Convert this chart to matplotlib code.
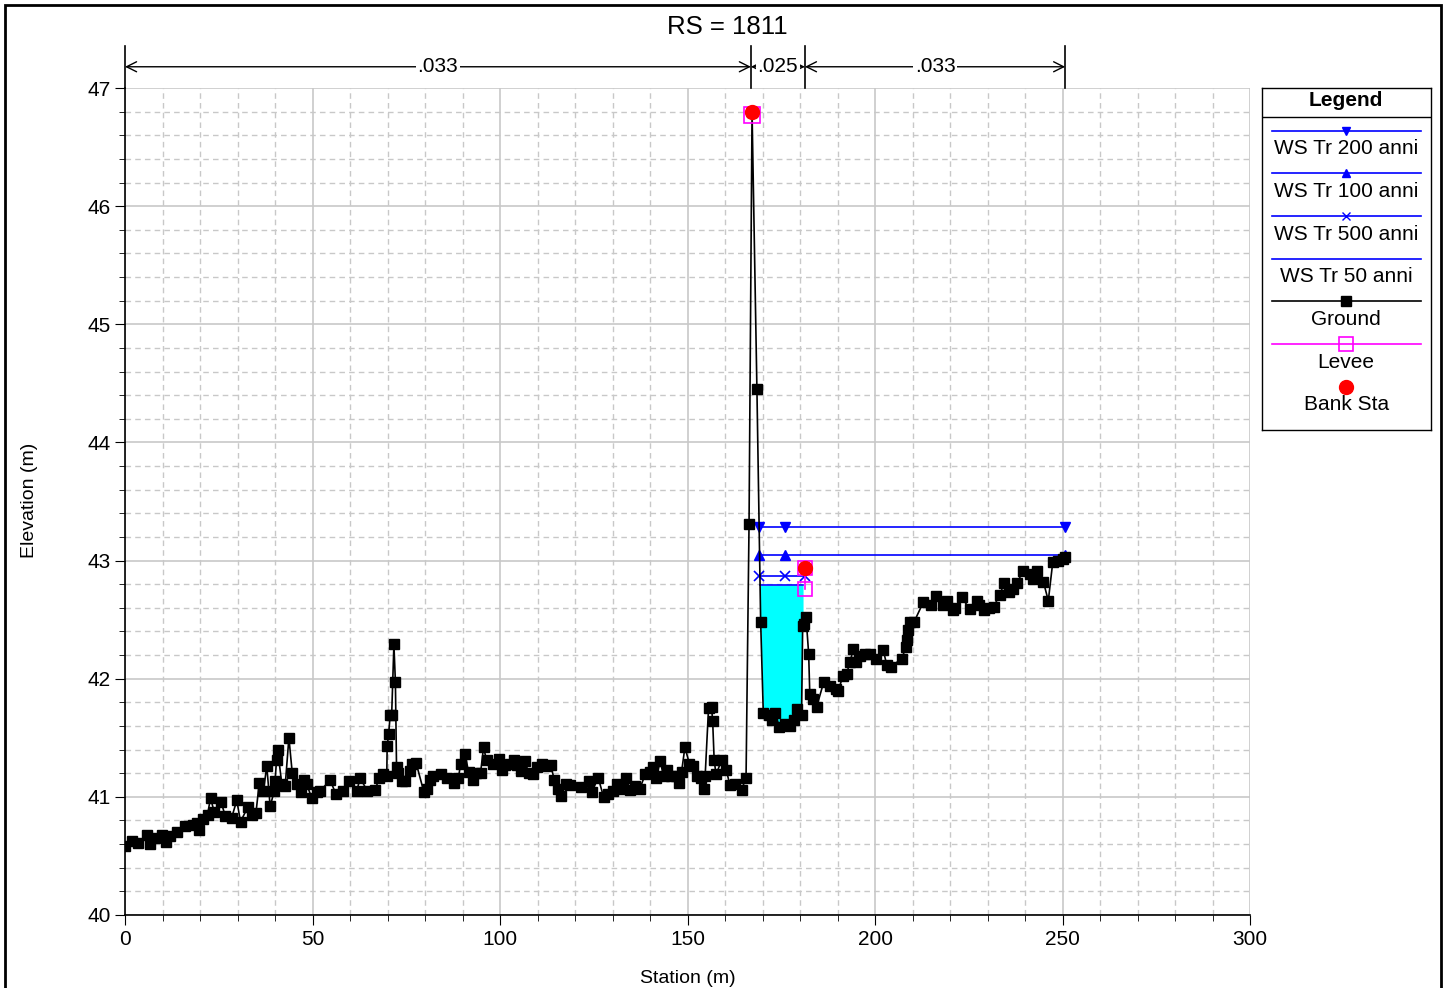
import numpy as np
import matplotlib
matplotlib.use("Agg")
import matplotlib.pyplot as plt
from matplotlib.patches import Rectangle
from matplotlib.ticker import MultipleLocator

plt.rcParams['font.family'] = ['Liberation Sans', 'DejaVu Sans']

# ground profile (station m, elevation m)
station = [0.0, 1.8, 3.5, 5.8, 6.7, 8.0, 9.8, 10.8, 12.0, 13.8, 16.0, 18.0, 19.1, 19.8, 20.9,
           22.0, 22.8, 23.8, 25.6, 26.7, 28.4, 29.8, 30.8, 32.7, 33.8, 34.9, 35.8, 36.9, 37.8,
           38.7, 39.8, 40.0, 40.4, 40.7, 41.8, 42.7, 43.7, 44.6, 45.8, 46.9, 47.8, 48.4, 49.8,
           51.1, 52.0, 54.7, 56.3, 58.2, 59.6, 61.8, 62.7, 64.6, 66.7, 67.8, 68.7, 69.8, 69.9,
           70.3, 70.7, 71.1, 71.7, 72.1, 72.4, 72.9, 73.8, 74.7, 76.0, 76.4, 77.6, 79.7, 80.6,
           81.3, 82.2, 84.2, 85.8, 87.7, 88.9, 89.5, 90.7, 91.6, 92.7, 93.6, 94.8, 95.6, 96.4,
           98.2, 99.6, 100.4, 101.3, 102.7, 103.7, 104.4, 105.5, 106.7, 107.6, 108.7, 109.8,
           111.1, 112.4, 113.5, 114.5, 115.4, 116.3, 117.6, 118.7, 121.5, 123.6, 124.4, 126.2,
           127.6, 128.9, 130.2, 131.1, 132.4, 133.6, 134.7, 136.0, 137.3, 138.7, 140.0, 140.9,
           141.6, 142.7, 143.6, 144.6, 145.5, 146.9, 147.6, 148.4, 149.3, 150.5, 151.4, 152.4,
           153.5, 154.4, 154.7, 155.6, 156.4, 156.7, 157.1, 157.6, 159.1, 160.3, 161.3, 162.7,
           164.4, 165.6, 166.4, 167.2, 168.5, 169.5, 170.2, 171.6, 172.4, 173.3, 174.5, 176.0,
           177.3, 178.4, 179.3, 180.4, 180.7, 181.0, 181.6, 182.3, 182.6, 183.5, 184.4, 186.3,
           188.0, 189.5, 190.2, 191.4, 192.4, 193.3, 194.2, 194.9, 196.0, 197.3, 198.7, 200.3,
           202.2, 203.1, 204.2, 207.1, 208.3, 208.6, 208.9, 209.3, 210.4, 212.9, 214.8, 216.3,
           218.1, 219.3, 220.7, 221.3, 223.1, 225.2, 227.1, 227.6, 229.1, 230.5, 231.6, 233.3,
           234.4, 235.6, 236.9, 237.9, 239.4, 241.2, 242.2, 243.1, 244.9, 246.2, 247.4, 248.9,
           250.2, 250.7]
elevation = [40.58, 40.63, 40.61, 40.68, 40.60, 40.65, 40.68, 40.62, 40.67, 40.70, 40.75, 40.76,
             40.78, 40.72, 40.81, 40.85, 40.99, 40.87, 40.96, 40.84, 40.82, 40.97, 40.79, 40.91,
             40.85, 40.86, 41.12, 41.05, 41.26, 40.92, 41.05, 41.13, 41.31, 41.40, 41.11, 41.09,
             41.50, 41.20, 41.11, 41.04, 41.14, 41.11, 40.99, 41.04, 41.05, 41.14, 41.02, 41.05,
             41.13, 41.05, 41.16, 41.05, 41.06, 41.16, 41.19, 41.18, 41.43, 41.53, 41.69, 41.69,
             42.29, 41.97, 41.25, 41.20, 41.13, 41.13, 41.22, 41.28, 41.29, 41.04, 41.07, 41.14,
             41.18, 41.19, 41.16, 41.12, 41.16, 41.28, 41.36, 41.21, 41.14, 41.20, 41.20, 41.42,
             41.31, 41.28, 41.32, 41.23, 41.27, 41.28, 41.31, 41.27, 41.22, 41.30, 41.20, 41.19,
             41.25, 41.28, 41.26, 41.27, 41.14, 41.07, 41.01, 41.11, 41.10, 41.08, 41.13, 41.04,
             41.16, 41.00, 41.02, 41.05, 41.11, 41.07, 41.16, 41.06, 41.09, 41.07, 41.19, 41.21,
             41.25, 41.16, 41.30, 41.18, 41.23, 41.18, 41.18, 41.12, 41.21, 41.42, 41.28, 41.26,
             41.18, 41.16, 41.07, 41.18, 41.75, 41.76, 41.64, 41.31, 41.19, 41.31, 41.23, 41.10,
             41.11, 41.06, 41.16, 43.31, 46.80, 44.45, 42.48, 41.71, 41.69, 41.65, 41.71, 41.59,
             41.62, 41.60, 41.65, 41.74, 41.69, 42.45, 42.46, 42.52, 42.21, 41.87, 41.83, 41.76,
             41.97, 41.94, 41.91, 41.90, 42.02, 42.04, 42.14, 42.25, 42.14, 42.19, 42.21, 42.21,
             42.17, 42.24, 42.12, 42.10, 42.17, 42.27, 42.33, 42.41, 42.48, 42.48, 42.65, 42.62,
             42.70, 42.62, 42.66, 42.58, 42.60, 42.69, 42.59, 42.66, 42.62, 42.58, 42.60, 42.61,
             42.71, 42.81, 42.73, 42.76, 42.81, 42.91, 42.89, 42.84, 42.91, 42.82, 42.66, 42.99,
             43.00, 43.01, 43.03]

# water surfaces
ws200_x = [169.1, 176.0, 250.7]
ws200_y = [43.28, 43.28, 43.28]
ws100_x = [169.1, 176.0, 250.7]
ws100_y = [43.05, 43.05, 43.05]
ws500_x = [169.1, 176.0, 181.3]
ws500_y = [42.87, 42.87, 42.87]
ws50_level = 42.79
ws50_right = 180.8

levee_left = (167.3, 46.77)
levee_right_x = [181.3, 181.3]
levee_right_y = [42.94, 42.76]
bank_x = [167.2, 181.3]
bank_y = [46.80, 42.94]

n_breaks = [0.0, 166.9, 181.3, 250.7]
n_values = ['.033', '.025', '.033']

fig = plt.figure(figsize=(14.47, 9.88), dpi=100)
ax = fig.add_axes([0.0864, 0.0739, 0.7775, 0.837])
ax.set_xlim(0, 300)
ax.set_ylim(40, 47)
ax.xaxis.set_major_locator(MultipleLocator(50))
ax.xaxis.set_minor_locator(MultipleLocator(10))
ax.yaxis.set_major_locator(MultipleLocator(1))
ax.yaxis.set_minor_locator(MultipleLocator(0.2))
ax.grid(which='major', color='#c8c8c8', lw=1.2, ls='-')
ax.grid(which='minor', color='#c8c8c8', lw=1.0, ls=(0, (4, 3)))
ax.set_axisbelow(True)
for s in ['top', 'right']:
    ax.spines[s].set_visible(False)
for s in ['left', 'bottom']:
    ax.spines[s].set_linewidth(1.2)
ax.tick_params(which='major', length=7, labelsize=15, direction='out')
ax.tick_params(which='minor', length=4, direction='out')

# water fill (WS 50)
st = np.array(station)
el = np.array(elevation)
m = (st >= 168.5) & (st <= ws50_right)
fx = np.append(st[m], ws50_right)
fy = np.append(el[m], np.interp(ws50_right, st, el))
ax.fill_between(fx, fy, ws50_level, where=fy < ws50_level, interpolate=True,
                color='#00ffff', lw=0, zorder=2)
ax.plot([169.4, ws50_right], [ws50_level, ws50_level], color='#0000ff', lw=1.2, zorder=3)

ax.plot(ws200_x, ws200_y, color='#0000ff', lw=1.2, marker='v', ms=7, zorder=3)
ax.plot(ws100_x, ws100_y, color='#0000ff', lw=1.2, marker='^', ms=7, zorder=3)
ax.plot(ws500_x, ws500_y, color='#0000ff', lw=1.2, marker='x', ms=7, mew=1.2, zorder=3)

ax.plot(station, elevation, color='black', lw=1.2, marker='s', ms=7.5, zorder=4)

ax.plot(levee_right_x, levee_right_y, color='#ff00ff', lw=1.2, marker='s', ms=10,
        mfc='none', mew=1.2, zorder=5)
ax.plot([levee_left[0]], [levee_left[1]], color='#ff00ff', marker='s', ms=11,
        mfc='none', mew=1.2, zorder=5, ls='none')
ax.plot(bank_x, bank_y, color='red', marker='o', ms=10, ls='none', zorder=6)

# manning n annotation above the plot
y_arr = 47.18
for xb in n_breaks:
    ax.plot([xb, xb], [47.0, 47.36], color='black', lw=1.2, clip_on=False)
for i, nv in enumerate(n_values):
    x0, x1 = n_breaks[i], n_breaks[i + 1]
    ax.annotate('', xy=(x0, y_arr), xytext=(x1, y_arr), annotation_clip=False,
                arrowprops=dict(arrowstyle='<->', color='black', lw=1.0,
                                shrinkA=0, shrinkB=0, mutation_scale=18))
    ax.text((x0 + x1) / 2, y_arr, nv, ha='center', va='center', fontsize=15,
            bbox=dict(facecolor='white', edgecolor='none', pad=1), clip_on=False)

fig.text(0.5024, 1 - 27 / 988, 'RS = 1811', ha='center', va='center', fontsize=18.5)
fig.text(0.4751, 0.0101, 'Station (m)', ha='center', va='center', fontsize=14)
fig.text(0.0207, 0.494, 'Elevation (m)', ha='center', va='center', fontsize=14,
         rotation=90)

# custom legend box
lax = fig.add_axes([0.8722, 0.5648, 0.1168, 0.3462])
lax.set_xlim(1262, 1431)
lax.set_ylim(430, 88)
lax.set_xticks([])
lax.set_yticks([])
for s in lax.spines.values():
    s.set_linewidth(1.0)
lax.text(1346, 101, 'Legend', ha='center', va='center', fontsize=15, fontweight='bold')
lax.plot([1262, 1431], [117, 117], color='black', lw=1.0)
entries = [('WS Tr 200 anni', '#0000ff', 'v', 'full'),
           ('WS Tr 100 anni', '#0000ff', '^', 'full'),
           ('WS Tr 500 anni', '#0000ff', 'x', 'full'),
           ('WS Tr 50 anni', '#0000ff', None, 'full'),
           ('Ground', 'black', 's', 'full'),
           ('Levee', '#ff00ff', 's', 'none'),
           ('Bank Sta', 'red', 'o', 'dot')]
line_y = [131, 173, 216, 259, 301, 344, 387]
text_y = [149, 192, 235, 277, 320, 363, 405]
for (lab, col, mk, kind), ly, ty in zip(entries, line_y, text_y):
    if kind != 'dot':
        lax.plot([1272, 1421], [ly, ly], color=col, lw=1.2)
    if mk == 's' and kind == 'none':
        lax.plot([1346], [ly], color=col, marker='s', ms=10, mfc='none', mew=1.2)
    elif kind == 'dot':
        lax.plot([1346], [ly], color=col, marker='o', ms=10)
    elif mk is not None:
        lax.plot([1346], [ly], color=col, marker=mk, ms=6 if mk != 's' else 7)
    lax.text(1346, ty, lab, ha='center', va='center', fontsize=15)

fig.add_artist(Rectangle((0.0035, -0.01), 0.9925, 1.005, transform=fig.transFigure,
                         fill=False, edgecolor='black', lw=2))

fig.savefig('out.png', dpi=100)
